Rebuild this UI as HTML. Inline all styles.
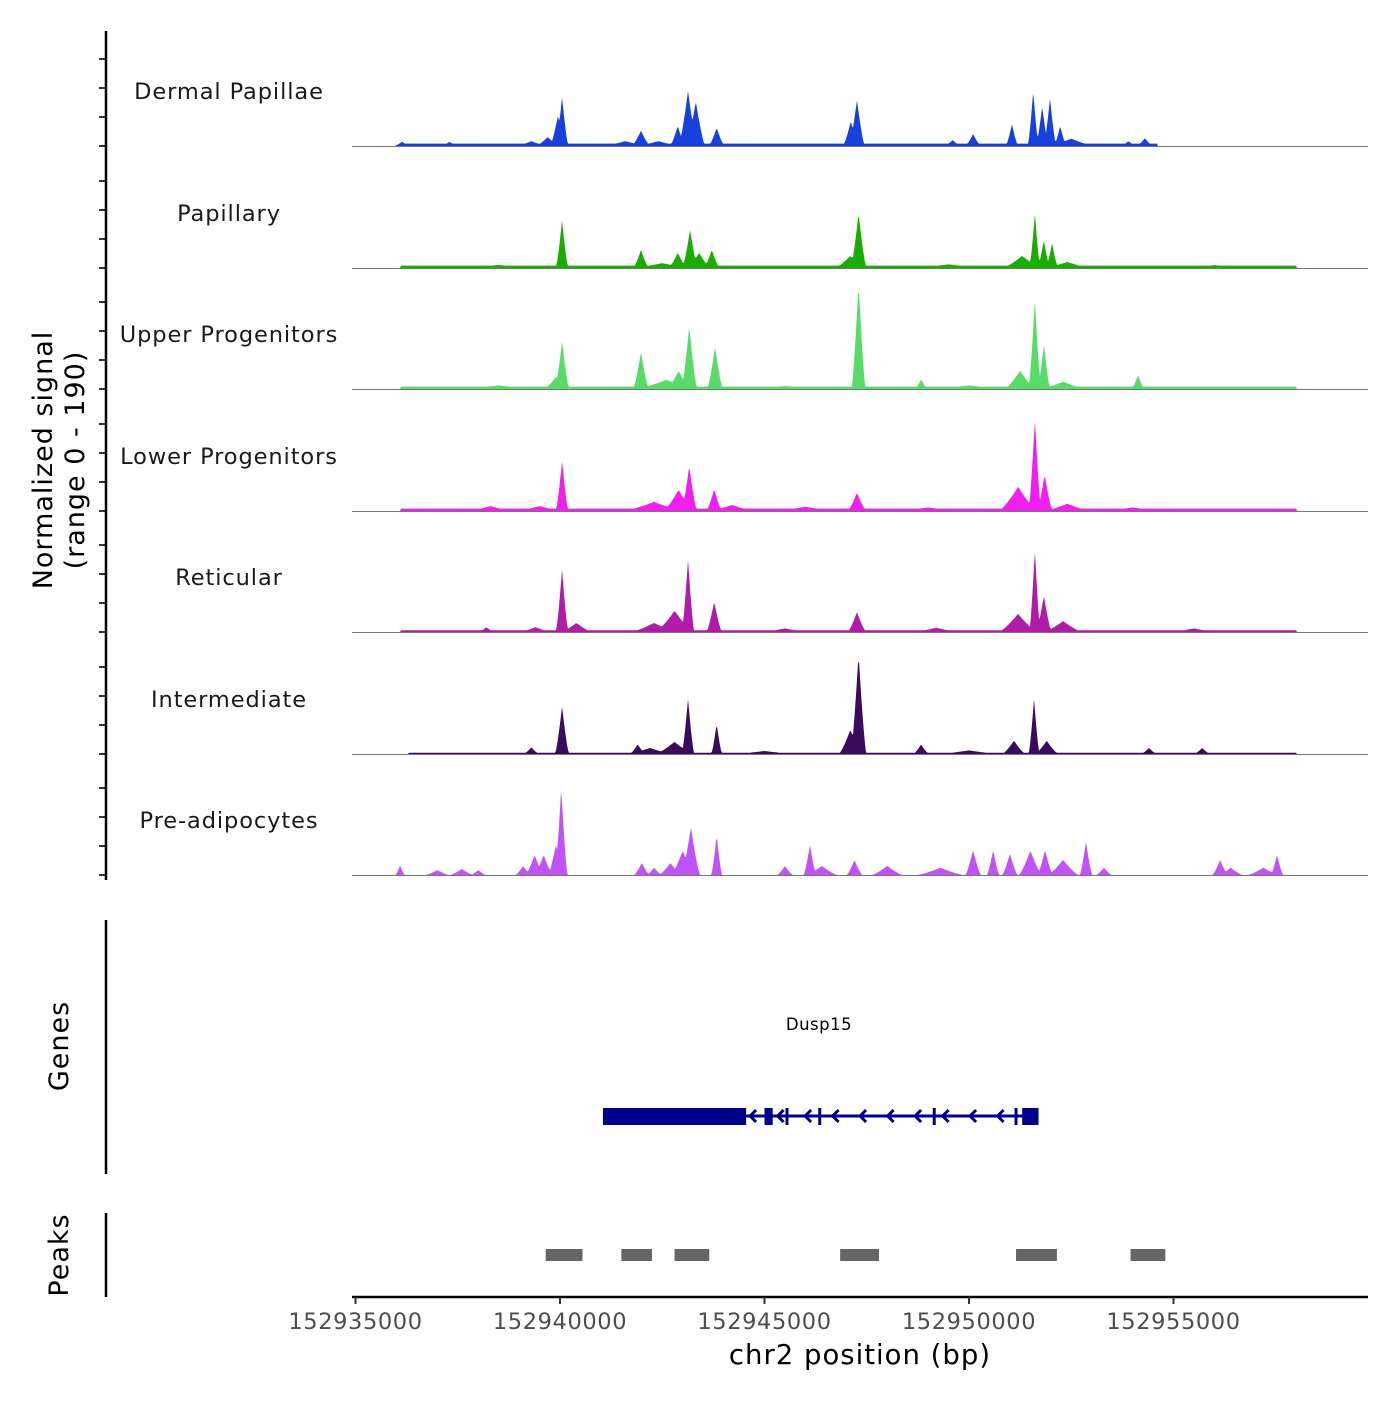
<!DOCTYPE html>
<html><head><meta charset="utf-8">
<style>
html,body{margin:0;padding:0;background:#fff;}
svg text{font-family:"DejaVu Sans","Liberation Sans",sans-serif;}
</style></head>
<body>
<svg id="chart" width="1400" height="1400" viewBox="0 0 1400 1400" xmlns="http://www.w3.org/2000/svg">
<rect width="1400" height="1400" fill="#fff"/>
<g id="tracks"></g>
<g id="axes"></g>
<g id="genes"></g>
<g id="peaks"></g>
</svg>
<script>
// ---- data ----
const startBp = 152935000;
const trackNames = ["Dermal Papillae","Papillary","Upper Progenitors","Lower Progenitors","Reticular","Intermediate","Pre-adipocytes"];
const trackColors = ["#1740dc","#1aac00","#58dc68","#f01ff0","#b01ca8","#3a0a5c","#c052f8"];
// peaks: [kb offset from start, signal (0-190), half-width kb]
const peaksDermal = [[5.05,81,0.08],[4.95,50,0.1],[4.7,15,0.15],[8.13,91,0.12],[8.32,74,0.12],[7.88,33,0.1],[8.83,30,0.1],[6.98,25,0.12],[6.6,8,0.3],[7.4,8,0.3],[12.26,76,0.1],[12.11,41,0.1],[16.57,91,0.07],[16.79,66,0.08],[16.98,79,0.08],[16.05,36,0.08],[17.23,33,0.08],[17.5,12,0.3],[15.1,20,0.1],[14.6,10,0.1],[19.3,13,0.1],[18.9,8,0.1],[1.14,7,0.1],[2.3,7,0.1],[4.3,8,0.2]];
const peaksPapillary = [[5.05,79,0.08],[6.98,30,0.1],[7.5,8,0.4],[8.18,63,0.1],[7.88,25,0.12],[8.4,25,0.15],[8.71,30,0.1],[12.3,91,0.1],[12.1,20,0.2],[16.61,91,0.07],[16.83,46,0.08],[17.03,41,0.08],[16.3,20,0.25],[17.4,10,0.3],[14.5,6,0.5],[3.5,5,0.5],[21,5,0.3]];
const peaksUpper = [[5.05,79,0.09],[4.9,20,0.15],[6.98,61,0.1],[7.6,15,0.4],[8.16,104,0.1],[7.9,30,0.15],[8.79,69,0.1],[12.3,175,0.09],[16.61,149,0.08],[16.83,74,0.08],[16.25,30,0.2],[17.3,12,0.3],[19.13,23,0.08],[13.83,16,0.08],[3.5,6,0.5],[10.5,5,0.5],[15,6,0.5]];
const peaksLower = [[5.05,83,0.08],[8.16,74,0.1],[7.9,35,0.2],[7.3,15,0.4],[8.77,36,0.1],[9.2,10,0.3],[12.26,30,0.12],[16.61,152,0.08],[16.85,60,0.1],[16.2,40,0.25],[17.4,12,0.3],[3.3,8,0.3],[4.5,8,0.3],[11,7,0.4],[14,6,0.4],[19,6,0.4]];
const peaksReticular = [[5.05,104,0.08],[5.4,15,0.2],[8.13,120,0.08],[7.8,35,0.25],[7.3,15,0.3],[8.77,50,0.1],[12.26,33,0.12],[16.61,137,0.07],[16.83,60,0.1],[16.2,30,0.25],[17.3,18,0.25],[3.2,8,0.1],[4.4,8,0.2],[10.5,6,0.3],[14.2,7,0.3],[20.5,6,0.3]];
const peaksInter = [[5.05,79,0.09],[8.13,91,0.08],[7.8,20,0.25],[7.2,10,0.3],[8.83,50,0.07],[12.3,165,0.1],[12.1,40,0.15],[16.59,91,0.07],[16.1,22,0.15],[16.9,22,0.15],[13.83,16,0.1],[6.9,16,0.1],[4.3,11,0.1],[19.4,10,0.1],[20.7,10,0.1],[10,5,0.4],[15,6,0.4]];
const peaksPre = [[5.03,145,0.08],[4.9,50,0.1],[4.38,33,0.12],[4.6,33,0.12],[4.1,15,0.1],[8.2,79,0.12],[8.0,40,0.15],[7.7,20,0.15],[8.83,66,0.07],[7.0,20,0.1],[7.3,12,0.1],[11.11,50,0.08],[10.5,15,0.1],[11.4,15,0.2],[12.2,25,0.1],[13,15,0.2],[14.3,12,0.3],[15.1,41,0.1],[15.59,41,0.08],[16.0,35,0.1],[16.5,40,0.15],[16.86,41,0.1],[17.3,25,0.2],[17.86,55,0.08],[18.3,12,0.1],[21.14,25,0.1],[21.4,12,0.15],[22.53,33,0.08],[22.2,12,0.2],[1.09,16,0.06],[2.0,8,0.15],[2.6,10,0.15],[3.0,8,0.1]];
const trackPeaks = [peaksDermal,peaksPapillary,peaksUpper,peaksLower,peaksReticular,peaksInter,peaksPre];
// low-level background: [startKb, endKb, signal]
const trackFloor = [[1.1,19.6,4],[1.1,23.0,4],[1.1,23.0,4],[1.1,23.0,4],[1.1,23.0,3],[1.3,23.0,2],[0,0,0]];
const xTicks = [152935000,152940000,152945000,152950000,152955000];
const peakRegions = [[152939650,152940550],[152941500,152942250],[152942800,152943650],[152946850,152947800],[152951150,152952150],[152953950,152954800]];
const geneStart = 152941050, geneEnd = 152951700, cdsEnd = 152944550;
const exons = [[152945000,152945200],[152951300,152951700]];
const exonTicks = [152945550,152946350,152949150,152951150];
const yMax = 190;

// ---- scales ----
const ns = "http://www.w3.org/2000/svg";
const X0 = 355.5, PXPERBP = 204.5/5000;
function xs(bp){return X0 + (bp-startBp)*PXPERBP;}
const baselines = [146,268,389,511,632,754,875];
const trackH = 115;
const WSCALE = 1.9;
function ys(v,i){return baselines[i] - v/yMax*trackH;}
function mk(tag, attrs, parent){const e=document.createElementNS(ns,tag);for(const k in attrs)e.setAttribute(k,attrs[k]);parent.appendChild(e);return e;}

const gT = document.getElementById('tracks');
const gA = document.getElementById('axes');
trackNames.forEach((name,i)=>{
  const g = mk('g',{},gT);
  
  
  let d = 'M352,'+baselines[i];
  for(let px=352; px<=1368; px+=1){
    const kb = (px - X0)/PXPERBP/1000;
    let v = 0;
    const f = trackFloor[i];
    if(kb>=f[0] && kb<=f[1]) v = f[2];
    for(const p of trackPeaks[i]){
      const t = 1 - Math.abs(kb-p[0])/(p[2]*WSCALE);
      if(t>0) v = Math.max(v, p[1]*Math.pow(t,1.3));
    }
    d += ' L'+px+','+ys(v,i).toFixed(1);
  }
  d += ' L1368,'+baselines[i]+' Z';
  const a = mk('path',{d:d,fill:trackColors[i]},g);
  
  
  const bl = mk('line',{x1:352,x2:1368,y1:baselines[i]+0.5,y2:baselines[i]+0.5,stroke:'#777','stroke-width':1},g);
  
  
  const lb = mk('text',{x:229,y:baselines[i]-47,'text-anchor':'middle','font-size':22.5,fill:'#1a1a1a','letter-spacing':'0.9'},g);
  lb.textContent = name;
  
  
  for(let k=0;k<4;k++){
    const y = baselines[i]-k*29;
    const t = mk('line',{x1:99,x2:106,y1:y,y2:y,stroke:'#333','stroke-width':2},gA);
    
    
  }
});
// y axis
let ya = mk('line',{x1:106,x2:106,y1:31,y2:880,stroke:'#000','stroke-width':2.5},gA);


let yt = mk('text',{transform:'translate(52,460) rotate(-90)','text-anchor':'middle','font-size':27,fill:'#000','letter-spacing':'1'},gA);
yt.textContent='Normalized signal';


let yt2 = mk('text',{transform:'translate(84,460) rotate(-90)','text-anchor':'middle','font-size':27,fill:'#000','letter-spacing':'1'},gA);
yt2.textContent='(range 0 - 190)';



// genes
const gG = document.getElementById('genes');
let gl = mk('line',{x1:106,x2:106,y1:920,y2:1174,stroke:'#000','stroke-width':2.5},gG);


let gtt = mk('text',{transform:'translate(68,1046) rotate(-90)','text-anchor':'middle','font-size':27,fill:'#000','letter-spacing':'1'},gG);
gtt.textContent='Genes';


let gn = mk('text',{x:819,y:1030,'text-anchor':'middle','font-size':16.5,fill:'#000','letter-spacing':'0.5'},gG);
gn.textContent='Dusp15';


const gy = 1116, navy='#00008b';
let gline = mk('line',{x1:xs(geneStart),x2:xs(geneEnd),y1:gy,y2:gy,stroke:navy,'stroke-width':3},gG);


let cds = mk('rect',{x:xs(geneStart),y:gy-8,width:xs(cdsEnd)-xs(geneStart),height:17,fill:navy},gG);


exons.forEach(e=>{
  const r = mk('rect',{x:xs(e[0]),y:gy-8,width:xs(e[1])-xs(e[0]),height:17,fill:navy},gG);
  
  
});
exonTicks.forEach(b=>{
  const r = mk('rect',{x:xs(b)-1.5,y:gy-8,width:3,height:17,fill:navy},gG);
  
  
});
for(let px=xs(cdsEnd)+4; px<xs(exons[1][0])-8; px+=27.5){
  const c = mk('path',{d:`M${px+6},${gy-6} L${px},${gy} L${px+6},${gy+6}`,fill:'none',stroke:navy,'stroke-width':3},gG);
  
  
}

// peaks
const gP = document.getElementById('peaks');
let pl = mk('line',{x1:106,x2:106,y1:1213,y2:1297,stroke:'#000','stroke-width':2.5},gP);


let ptt = mk('text',{transform:'translate(68,1255) rotate(-90)','text-anchor':'middle','font-size':27,fill:'#000','letter-spacing':'1'},gP);
ptt.textContent='Peaks';


peakRegions.forEach(p=>{
  const r = mk('rect',{x:xs(p[0]),y:1249,width:xs(p[1])-xs(p[0]),height:12,fill:'#666'},gP);
  
  
});

// x axis
let xa = mk('line',{x1:352,x2:1368,y1:1297,y2:1297,stroke:'#000','stroke-width':2.5},gA);


xTicks.forEach(b=>{
  const t = mk('line',{x1:xs(b),x2:xs(b),y1:1297,y2:1304,stroke:'#333','stroke-width':2},gA);
  
  
  const l = mk('text',{x:xs(b),y:1329,'text-anchor':'middle','font-size':22.5,fill:'#4d4d4d','letter-spacing':'0.6'},gA);
  l.textContent = String(b);
  
  
});
let xt = mk('text',{x:860,y:1364,'text-anchor':'middle','font-size':27.5,fill:'#000','letter-spacing':'1'},gA);
xt.textContent='chr2 position (bp)';


</script>
</body></html>
